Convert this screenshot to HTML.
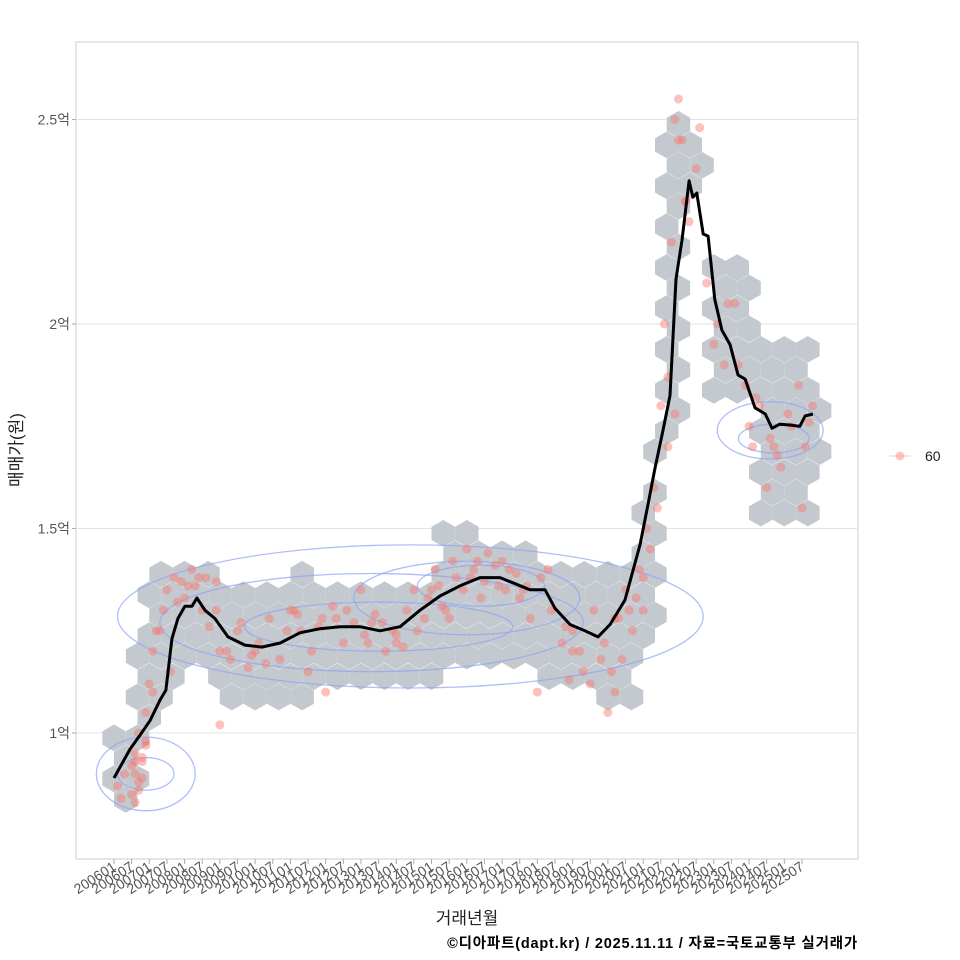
<!DOCTYPE html>
<html><head><meta charset="utf-8"><style>
body{margin:0;background:#fff}
svg{display:block;font-family:"Liberation Sans","Noto Sans CJK KR",sans-serif}
</style></head><body>
<svg id="chart" width="960" height="960" viewBox="0 0 960 960">
<rect x="76" y="42" width="782" height="817" fill="#fff" stroke="#ccc"/>
<g id="grid"></g>
<g id="hexes"></g>
<g id="contours"></g>
<g id="points"></g>
<path id="trend" fill="none" stroke="#000" stroke-width="3" stroke-linejoin="round"/>
<g id="yaxis"></g>
<g id="xaxis"></g>
<text x="22" y="450" transform="rotate(-90 22 450)" text-anchor="middle" font-size="17" fill="#222">매매가(원)</text>
<text x="467" y="924" text-anchor="middle" font-size="17" fill="#222">거래년월</text>
<text x="858" y="948" text-anchor="end" font-size="14.5" font-weight="bold" fill="#000" letter-spacing="0.8">©디아파트(dapt.kr) / 2025.11.11 / 자료=국토교통부 실거래가</text>
<g>
<line x1="889" y1="456" x2="911" y2="456" stroke="#f8766d" stroke-opacity="0.4"/>
<circle cx="900" cy="456" r="4.5" fill="#f8766d" fill-opacity="0.4"/>
<text x="925" y="461" font-size="14" fill="#222">60</text>
</g>
</svg>
<script>
const yTicks=[1,1.5,2,2.5];
const yTickLabels=["1억","1.5억","2억","2.5억"];
const lineYears=[2006.00,2006.45,2006.74,2007.02,2007.30,2007.47,2007.64,2007.81,2008.01,2008.21,2008.35,2008.58,2008.86,2009.23,2009.71,2010.19,2010.71,2011.27,2011.84,2012.41,2012.97,2013.54,2014.11,2014.67,2015.24,2015.81,2016.37,2016.94,2017.37,2017.79,2018.22,2018.50,2018.93,2019.35,2019.72,2020.06,2020.48,2020.91,2021.14,2021.33,2021.56,2021.76,2021.93,2022.10,2022.30,2022.41,2022.52,2022.70,2022.84,2023.03,2023.23,2023.46,2023.69,2023.89,2024.17,2024.46,2024.65,2024.87,2025.16,2025.44,2025.59,2025.81];
const lineValues=[0.89,0.96,0.995,1.03,1.08,1.105,1.23,1.28,1.31,1.31,1.33,1.30,1.28,1.235,1.215,1.21,1.22,1.245,1.255,1.26,1.26,1.25,1.26,1.30,1.335,1.36,1.38,1.38,1.365,1.35,1.35,1.305,1.265,1.25,1.235,1.265,1.325,1.46,1.56,1.645,1.74,1.825,2.11,2.205,2.35,2.31,2.32,2.22,2.215,2.06,1.985,1.95,1.875,1.865,1.795,1.78,1.745,1.755,1.753,1.75,1.775,1.78];
const hexCol=[0,1,2,3,4,5,6,7,8,9,10,11,12,13,14,15,16,17,18,19,20,21,22,23,24,25,26,27,28,29,30,31,32,33,34,35,36,37,38,39,40,41,42,43,44,45,46,47,48,49,50,51,52,53,54,55,56,57,58,59,60];
const hexLo=[0.85,0.79,0.85,1.0,1.08,1.13,1.15,1.18,1.18,1.13,1.08,1.08,1.08,1.08,1.08,1.08,1.08,1.10,1.10,1.10,1.10,1.10,1.10,1.10,1.10,1.10,1.10,1.08,1.18,1.18,1.18,1.15,1.15,1.15,1.15,1.15,1.15,1.10,1.10,1.10,1.10,1.08,1.08,1.08,1.08,1.18,1.20,1.70,1.75,2.30,2.35,1.80,1.80,1.80,1.80,1.50,1.50,1.50,1.50,1.50,1.65];
const hexHi=[1.0,0.95,1.25,1.35,1.40,1.42,1.42,1.42,1.46,1.35,1.35,1.35,1.35,1.35,1.35,1.35,1.40,1.35,1.35,1.35,1.35,1.35,1.35,1.35,1.35,1.35,1.35,1.35,1.50,1.50,1.50,1.45,1.45,1.45,1.45,1.45,1.45,1.40,1.40,1.40,1.40,1.40,1.40,1.40,1.40,1.62,1.70,2.50,2.58,2.50,2.40,2.15,2.15,2.15,2.15,1.95,1.95,1.95,1.95,1.95,1.80];
const ptYears=[2006.1,2006.2,2006.3,2006.5,2006.6,2006.7,2006.7,2006.8,2006.9,2007.0,2007.1,2007.2,2007.4,2007.5,2007.7,2007.9,2008.0,2008.2,2008.3,2008.5,2008.7,2009.0,2009.3,2009.5,2009.8,2010.1,2010.4,2010.7,2011.0,2011.3,2011.6,2011.9,2012.2,2012.5,2012.8,2013.1,2013.4,2013.7,2014.0,2014.3,2014.6,2014.9,2015.1,2015.4,2015.6,2015.9,2016.1,2016.4,2016.6,2016.9,2017.2,2017.5,2017.8,2018.1,2018.4,2018.7,2019.0,2019.3,2019.6,2019.9,2020.2,2020.5,2020.7,2020.9,2021.1,2021.3,2021.5,2021.6,2021.8,2021.9,2022.0,2022.1,2022.2,2022.5,2022.8,2023.1,2023.3,2023.6,2023.9,2024.1,2024.3,2024.6,2024.9,2025.1,2025.4,2025.7,2007.6,2008.6,2010.0,2012.0,2014.5,2016.0,2018.0,2019.5,2020.4,2021.0,2021.7,2022.3,2023.0,2024.5,2025.5,2006.6,2006.9,2009.0,2011.5,2013.0,2015.5,2017.0,2019.0,2020.0,
2006.6,2006.7,2006.8,2006.8,2006.9,2006.6,2006.5,2007.1,2007.3,2007.8,2008.1,2008.4,2008.9,2009.2,2009.6,2010.3,2010.9,2011.2,2011.8,2012.3,2012.6,2013.2,2013.6,2013.9,2014.2,2014.8,2015.0,2015.3,2015.7,2016.2,2016.5,2016.8,2017.1,2017.4,2017.7,2018.3,2018.8,2019.2,2019.8,2020.1,2020.3,2020.6,2020.8,2021.0,2021.2,2021.4,2021.7,2021.9,2022.0,2022.2,2022.6,2023.4,2023.7,2024.0,2024.2,2024.7,2024.8,2025.2,2025.6,2025.8,2015.2,2016.3,2017.6,2020.2,2013.3,2011.1,2009.9,2008.9,2014.0,2018.9];
const ptVals=[0.87,0.84,0.90,0.92,0.95,0.88,1.00,0.93,1.05,1.12,1.20,1.25,1.30,1.35,1.38,1.37,1.33,1.40,1.36,1.30,1.26,1.20,1.18,1.25,1.16,1.22,1.28,1.18,1.30,1.25,1.20,1.28,1.31,1.22,1.27,1.24,1.29,1.20,1.22,1.30,1.25,1.33,1.40,1.30,1.42,1.35,1.38,1.33,1.44,1.36,1.40,1.33,1.28,1.38,1.30,1.22,1.20,1.15,1.30,1.22,1.28,1.35,1.25,1.40,1.50,1.60,1.80,2.00,2.20,2.50,2.55,2.45,2.30,2.38,2.10,2.00,1.90,2.05,1.85,1.70,1.80,1.72,1.65,1.78,1.85,1.76,1.15,1.38,1.20,1.10,1.35,1.45,1.10,1.12,1.18,1.30,1.70,2.25,1.95,1.60,1.55,0.83,0.98,1.02,1.15,1.35,1.28,1.42,1.25,1.05,
0.90,0.86,0.89,0.94,0.97,0.93,0.85,1.10,1.25,1.32,1.36,1.38,1.30,1.20,1.27,1.17,1.25,1.29,1.26,1.28,1.30,1.22,1.27,1.25,1.21,1.28,1.35,1.31,1.38,1.40,1.37,1.41,1.35,1.39,1.36,1.40,1.26,1.20,1.18,1.15,1.28,1.30,1.33,1.38,1.45,1.55,1.87,1.78,2.45,2.30,2.48,2.05,1.90,1.75,1.82,1.70,1.68,1.75,1.70,1.80,1.36,1.42,1.35,1.10,1.27,1.30,1.19,1.37,1.24,1.13];
const xTickLabels=[];for(let y=2006;y<=2025;y++){xTickLabels.push(y+"01");xTickLabels.push(y+"07");}

const NS="http://www.w3.org/2000/svg";
const X=yr=>114+(yr-2006)*35.28;
const Y=v=>733-(v-1)*409;
function mk(tag,attrs,parent){const e=document.createElementNS(NS,tag);for(const k in attrs)e.setAttribute(k,attrs[k]);parent.appendChild(e);return e;}
const grid=document.getElementById('grid'),yax=document.getElementById('yaxis'),xax=document.getElementById('xaxis');
yTicks.forEach((t,i)=>{
 const l=mk('line',{x1:76,x2:858,y1:Y(t),y2:Y(t),stroke:'#e3e3e3'},grid);
 
 
 const tx=mk('text',{x:70,y:Y(t)+5,'text-anchor':'end','font-size':14,fill:'#555'},yax);
 tx.textContent=yTickLabels[i];
 
 
 const tk=mk('line',{x1:72,x2:76,y1:Y(t),y2:Y(t),stroke:'#aaa'},yax);
 
 
});
xTickLabels.forEach((lab,i)=>{
 const yr=2006+i*0.5,x=X(yr);
 const tk=mk('line',{x1:x,x2:x,y1:859,y2:864,stroke:'#aaa'},xax);
 
 
 const tx=mk('text',{x:x+3,y:869,'text-anchor':'end','font-size':14,fill:'#555',transform:`rotate(-33 ${x+3} 869)`},xax);
 tx.textContent=lab;
 
 
});
const hg=document.getElementById('hexes');
const hw=11.75,hr=13.4;
hexCol.forEach((c,i)=>{
 const yr=2006+c/3;const cx=X(yr);
 for(let r=-6;r<40;r++){
  if(((r%2)+2)%2!==c%2)continue;
  const v=0.988+r*0.05;
  if(v<hexLo[i]-0.001||v>hexHi[i]+0.001)continue;
  const cy=Y(v);
  const pts=[[0,-hr],[hw,-hr/2],[hw,hr/2],[0,hr],[-hw,hr/2],[-hw,-hr/2]].map(p=>(cx+p[0]).toFixed(1)+','+(cy+p[1]).toFixed(1)).join(' ');
  const h=mk('polygon',{points:pts,fill:'#c3c9ce'},hg);
  
  
 }
});
const cg=document.getElementById('contours');
const ellYr=[2014.4,2013.3,2013.5,2016.0,2016.4,2006.9,2006.9,2024.6,2024.7];
const ellV=[1.285,1.27,1.26,1.33,1.36,0.90,0.90,1.74,1.72];
const ellRx=[8.3,6.0,3.8,3.2,1.8,1.4,0.8,1.5,1.0];
const ellRy=[0.175,0.12,0.06,0.09,0.05,0.09,0.04,0.07,0.035];
ellYr.forEach((yr,i)=>{
 const e=mk('ellipse',{cx:X(yr),cy:Y(ellV[i]),rx:ellRx[i]*35.28,ry:ellRy[i]*409,fill:'none',stroke:'#8fa3f5','stroke-opacity':0.7,'stroke-width':1.3},cg);
 
 
});
const pg=document.getElementById('points');
ptYears.forEach((yr,i)=>{
 const c=mk('circle',{cx:X(yr),cy:Y(ptVals[i]),r:4.5,fill:'#f8766d','fill-opacity':0.45},pg);
 
 
});
document.getElementById('trend').setAttribute('d',lineYears.map((yr,i)=>(i?'L':'M')+X(yr).toFixed(1)+','+Y(lineValues[i]).toFixed(1)).join(''));
</script>
</body></html>
